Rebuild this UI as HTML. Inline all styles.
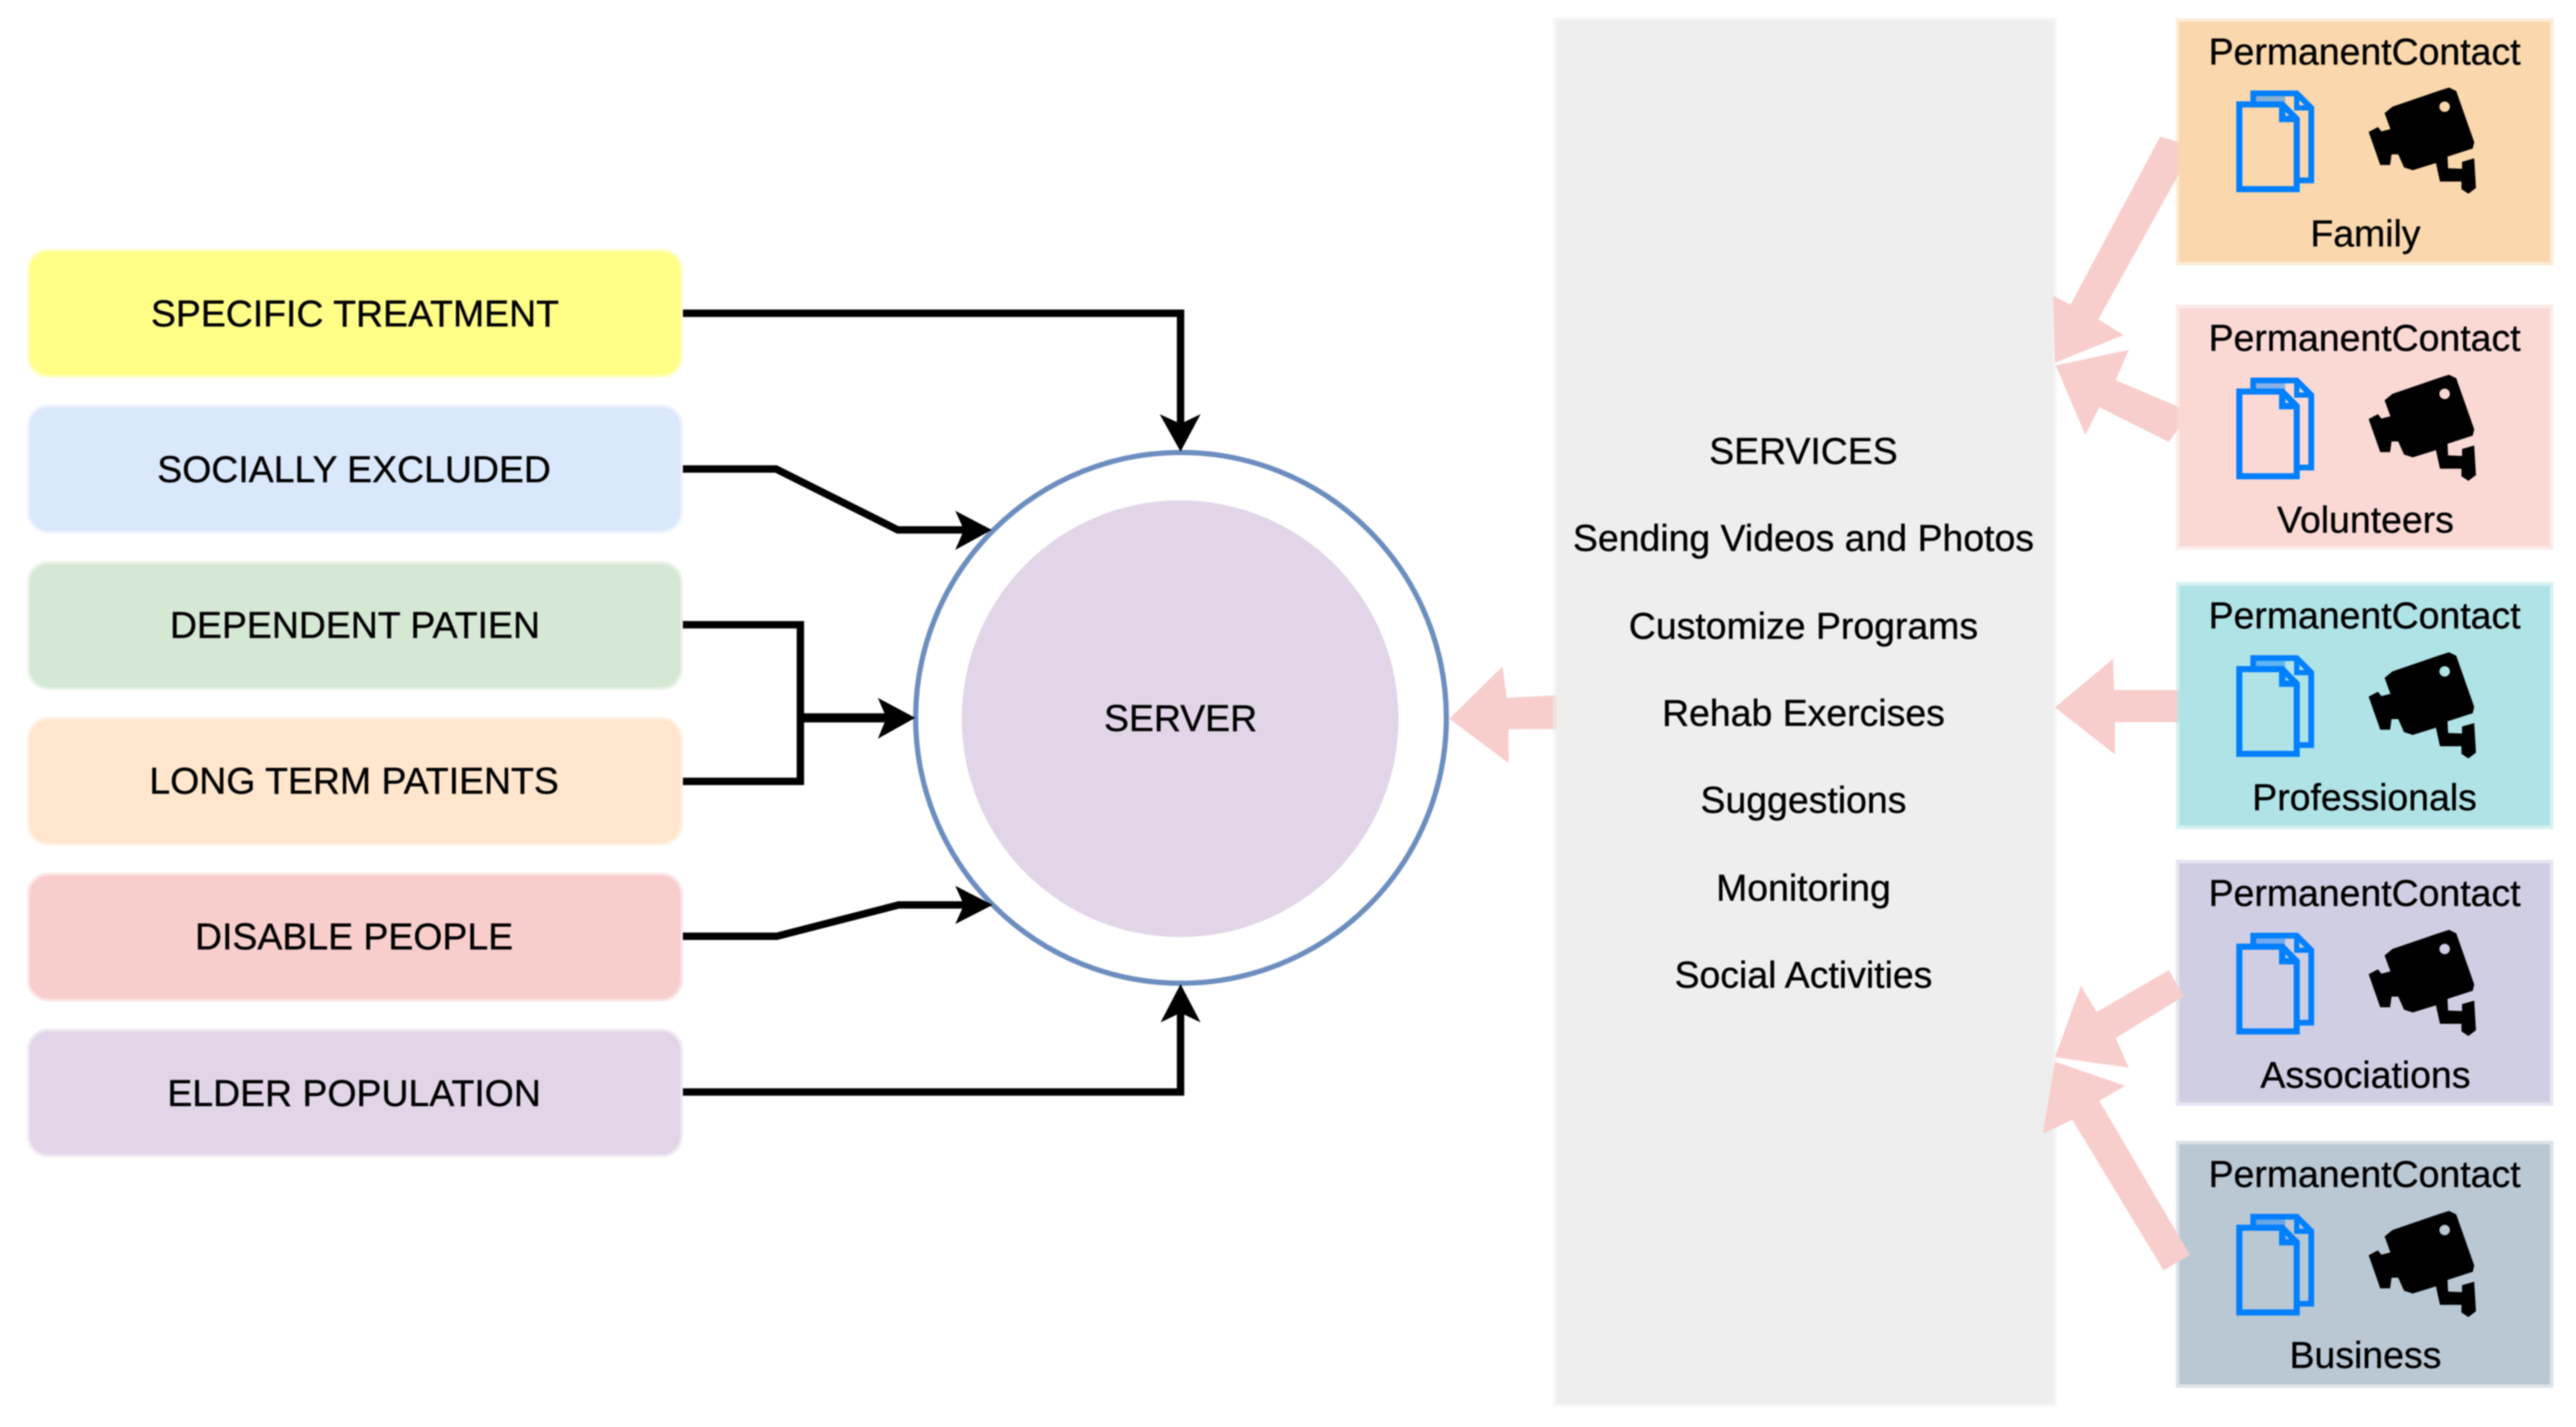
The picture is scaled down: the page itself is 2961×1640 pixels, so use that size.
<!DOCTYPE html>
<html>
<head>
<meta charset="utf-8">
<style>
html,body{margin:0;padding:0;background:#fff;width:2961px;height:1640px;overflow:hidden}
svg{display:block;filter:blur(0.7px)}
text{font-family:"Liberation Sans",sans-serif;font-size:43px;fill:#000;stroke:#000;stroke-width:.4px;text-anchor:middle}
.l{fill:none;stroke:#000;stroke-width:8.5;stroke-linejoin:miter}
.p{fill:#f8cecc}
</style>
</head>
<body>
<svg width="2961" height="1640" viewBox="0 0 2961 1640" xmlns="http://www.w3.org/2000/svg">
<defs>
<g id="icons">
  <g transform="translate(2560,80) scale(.33333)">
    <rect x="100" y="92" width="100" height="24" fill="#007fff" opacity=".45"/>
    <path d="M90 115V82H240L290 132V382H245" fill="none" stroke="#007fff" stroke-width="20"/>
    <path d="M240 85V132H290" fill="none" stroke="#007fff" stroke-width="18"/>
    <path d="M42 120H190L240 170V412H42Z" fill="none" stroke="#007fff" stroke-width="21"/>
    <path d="M190 120V170H240" fill="none" stroke="#007fff" stroke-width="22"/>
    <path fill-rule="evenodd" d="M765 62L790 74L852 250L847 272L760 300L762 340L810 342L810 318L852 306L858 408L832 428L808 412L808 386L734 386L720 322L640 347L610 337L590 292L567 292L562 329L528 329L488 215L520 198L532 213L563 205L543 150L570 128L730 73ZM750 110A18 18 0 1 0 750.1 146A18 18 0 1 0 750 110Z" fill="#000"/>
  </g>
</g>
</defs>

<!-- left boxes -->
<rect x="31" y="286" width="754" height="148" rx="24" fill="#ffff88" opacity=".5"/><rect x="34" y="289" width="748" height="142" rx="22" fill="#ffff88"/>
<rect x="31" y="465" width="754" height="148" rx="24" fill="#dae8fc" opacity=".5"/><rect x="34" y="468" width="748" height="142" rx="22" fill="#dae8fc"/>
<rect x="31" y="645" width="754" height="148" rx="24" fill="#d5e8d4" opacity=".5"/><rect x="34" y="648" width="748" height="142" rx="22" fill="#d5e8d4"/>
<rect x="31" y="824" width="754" height="148" rx="24" fill="#ffe6cc" opacity=".5"/><rect x="34" y="827" width="748" height="142" rx="22" fill="#ffe6cc"/>
<rect x="31" y="1003" width="754" height="148" rx="24" fill="#f8cecc" opacity=".5"/><rect x="34" y="1006" width="748" height="142" rx="22" fill="#f8cecc"/>
<rect x="31" y="1182" width="754" height="148" rx="24" fill="#e1d5e7" opacity=".5"/><rect x="34" y="1185" width="748" height="142" rx="22" fill="#e1d5e7"/>

<text x="408" y="375">SPECIFIC TREATMENT</text>
<text x="407" y="554">SOCIALLY EXCLUDED</text>
<text x="408" y="733">DEPENDENT PATIEN</text>
<text x="407" y="912">LONG TERM PATIENTS</text>
<text x="407" y="1091">DISABLE PEOPLE</text>
<text x="407" y="1271">ELDER POPULATION</text>

<!-- server -->
<circle cx="1357.5" cy="825" r="305" fill="#fff" stroke="#6c8ebf" stroke-width="6"/>
<circle cx="1356.5" cy="826" r="251" fill="#e1d5e7"/>
<text x="1357" y="840">SERVER</text>

<!-- connectors -->
<path class="l" d="M785 360H1357V490"/>
<path class="l" d="M785 539H892L1032 609H1110"/>
<path class="l" d="M785 718H920V898H785"/>
<path d="M920 825H1022" fill="none" stroke="#000" stroke-width="10.5"/>
<path class="l" d="M785 1076H893L1033 1040H1110"/>
<path class="l" d="M785 1255H1357V1162"/>
<polygon points="1357,519 1333,476 1357,487 1380,476"/>
<polygon points="1140,609 1098,587 1108,609 1098,632"/>
<polygon points="1052,825 1009,802 1019,825 1009,849"/>
<polygon points="1141,1040 1098,1018 1108,1040 1098,1062"/>
<polygon points="1357,1131 1334,1175 1357,1164 1380,1175"/>

<!-- arrow to server -->
<polygon class="p" points="1666,826 1727,766 1732,802 1790,799 1790,838 1734,838 1734,877"/>

<!-- services panel -->
<rect x="1785" y="20" width="579" height="1596" fill="#eeeeee" opacity=".6"/>
<rect x="1789" y="24" width="571" height="1589" fill="#eeeeee"/>
<text x="2073" y="533">SERVICES</text>
<text x="2073" y="633">Sending Videos and Photos</text>
<text x="2073" y="734">Customize Programs</text>
<text x="2073" y="834">Rehab Exercises</text>
<text x="2073" y="934">Suggestions</text>
<text x="2073" y="1035">Monitoring</text>
<text x="2073" y="1135">Social Activities</text>

<!-- pink arrows behind cards -->
<polygon class="p" points="2483,157 2510,165 2510,190 2412,367 2441,385 2362,417 2360,340 2380,350"/>
<polygon class="p" points="2510,470 2510,484 2493,508 2413,468 2397,500 2363,420 2447,402 2432,437"/>
<polygon class="p" points="2362,813 2429,757 2430,793 2510,793 2510,830 2431,830 2431,867"/>

<!-- cards -->
<rect x="2501" y="21" width="434" height="284" fill="#fad7ac" opacity=".5"/><rect x="2505" y="25" width="426" height="276" fill="#fad7ac"/>
<rect x="2501" y="350" width="434" height="282" fill="#fad9d5" opacity=".5"/><rect x="2505" y="354" width="426" height="274" fill="#fad9d5"/>
<rect x="2501" y="669" width="434" height="284" fill="#b0e3e6" opacity=".5"/><rect x="2505" y="673" width="426" height="276" fill="#b0e3e6"/>
<rect x="2501" y="988" width="434" height="283" fill="#d0cee2" opacity=".5"/><rect x="2505" y="992" width="426" height="275" fill="#d0cee2"/>
<rect x="2501" y="1311" width="434" height="284" fill="#bac8d3" opacity=".5"/><rect x="2505" y="1315" width="426" height="276" fill="#bac8d3"/>

<text x="2718" y="74">PermanentContact</text>
<use href="#icons" y="0"/>
<text x="2719" y="283">Family</text>

<text x="2718" y="403">PermanentContact</text>
<use href="#icons" y="330"/>
<text x="2719" y="612">Volunteers</text>

<text x="2718" y="722">PermanentContact</text>
<use href="#icons" y="649"/>
<text x="2718" y="931">Professionals</text>

<text x="2718" y="1041">PermanentContact</text>
<use href="#icons" y="968"/>
<text x="2719" y="1250">Associations</text>

<text x="2718" y="1364">PermanentContact</text>
<use href="#icons" y="1291"/>
<text x="2719" y="1572">Business</text>

<!-- pink arrows over cards -->
<polygon class="p" points="2493,1115 2510,1145 2432,1193 2447,1227 2362,1215 2392,1133 2410,1163"/>
<polygon class="p" points="2517,1442 2487,1460 2382,1287 2348,1303 2362,1220 2443,1248 2413,1265"/>
</svg>
</body>
</html>
